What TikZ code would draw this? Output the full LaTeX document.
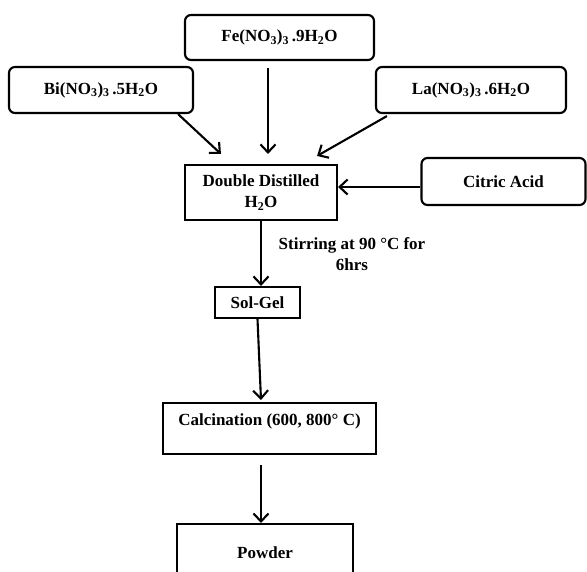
\documentclass[tikz,border=0pt]{standalone}
\usepackage{fontspec}
\setmainfont{Liberation Serif}
\usetikzlibrary{arrows.meta,calc}
\tikzset{
  txt/.style={font=\bfseries\fontsize{17}{21}\selectfont},
  rbox/.style={txt,draw,line width=2.1pt,rounded corners=6pt,inner sep=0pt},
  sbox/.style={txt,draw,line width=2.1pt,inner sep=0pt},
  arr/.style={line width=2.1pt,-{Straight Barb[length=8pt,width=15pt]}}
}
\begin{document}
\begin{tikzpicture}[x=1pt,y=-1pt]
\useasboundingbox (0,0) rectangle (587,571);
\clip (0,0) rectangle (587,571);
\node[rbox,minimum width=189pt,minimum height=45pt] (fe) at (279.5,37.5) {Fe(NO\textsubscript{3})\textsubscript{3}\,.9H\textsubscript{2}O};
\node[rbox,minimum width=184pt,minimum height=46pt] (bi) at (101,90) {Bi(NO\textsubscript{3})\textsubscript{3}\,.5H\textsubscript{2}O};
\node[rbox,minimum width=190pt,minimum height=46pt] (la) at (471,90) {La(NO\textsubscript{3})\textsubscript{3}\,.6H\textsubscript{2}O};
\node[sbox,align=center,minimum width=152pt,minimum height=55pt] (dd) at (261,192.5) {Double Distilled\\H\textsubscript{2}O};
\node[rbox,minimum width=164pt,minimum height=47pt] (ca) at (503.5,181.5) {Citric Acid};
\node[sbox,minimum width=85pt,minimum height=31pt] (sg) at (257.5,302.5) {Sol-Gel};
\node[sbox,anchor=north,minimum width=213pt,inner ysep=4pt,text height=18pt,text depth=25pt] (calc) at (269.5,402) {Calcination (600, 800° C)};
\node[sbox,anchor=north,minimum width=176pt,inner ysep=4pt,text height=30pt,text depth=29pt] (pw) at (265,523) {Powder};
\node[txt,align=center] (stir) at (352,254) {Stirring at 90 °C for\\6hrs};
\draw[arr] ($(bi.south east)+(-16,0)$) -- ($(dd.north west)+(37,-10)$);
\draw[arr] ($(fe.south)+(-11.5,7)$) -- ($(dd.north)+(7,-10)$);
\draw[arr] ($(la.south west)+(12,2)$) -- ($(dd.north east)+(-21,-8)$);
\draw[arr] ($(ca.west)+(0,5.5)$) coordinate (c1) -- (c1 -| dd.east);
\draw[arr] (dd.south) -- (dd.south |- sg.north);
\draw[arr] ($(sg.south)+(0,0)$) -- ($(calc.north)+(-8.5,-2)$);
\draw[arr] ($(calc.south)+(-8.5,10)$) coordinate (c2) -- (c2 |- pw.north);
\end{tikzpicture}
\end{document}
